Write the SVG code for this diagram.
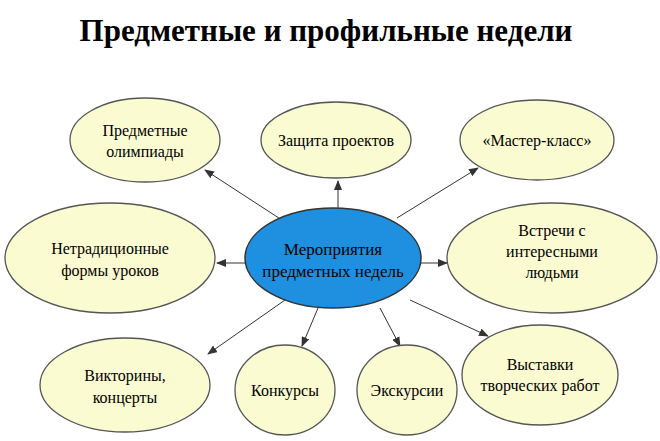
<svg xmlns="http://www.w3.org/2000/svg" width="660" height="441" viewBox="0 0 660 441">
<style>
.n{fill:#fbfbd2;stroke:#555;stroke-width:1.3}
text{font-family:"Liberation Serif",serif;font-size:16px;fill:#000;text-anchor:middle}
.c line{stroke:#333;stroke-width:1;marker-end:url(#a)}
</style>
<defs><marker id="a" markerWidth="10" markerHeight="8" refX="9" refY="4" orient="auto" markerUnits="userSpaceOnUse"><path d="M0,0L10,4L0,8z" fill="#333"/></marker></defs>
<rect width="660" height="441" fill="#fff"/>
<text x="326" y="41" style="font-size:31px;font-weight:bold">Предметные и профильные недели</text>
<g class="c">
<line x1="285" y1="222" x2="205" y2="170"/>
<line x1="338" y1="208" x2="338" y2="181"/>
<line x1="397" y1="218" x2="478" y2="168"/>
<line x1="246" y1="263" x2="217" y2="263"/>
<line x1="420" y1="263" x2="447" y2="263"/>
<line x1="285" y1="300" x2="208" y2="354"/>
<line x1="318" y1="308" x2="302" y2="346"/>
<line x1="380" y1="308" x2="400" y2="346"/>
<line x1="410" y1="300" x2="488" y2="336"/>
</g>
<g id="center"><ellipse cx="333" cy="258" rx="88" ry="50" fill="#1f8fe0" stroke="#333" stroke-width="1.5"/><text x="333" y="255" style="font-size:17px">Мероприятия</text><text x="333" y="277" style="font-size:17px">предметных недель</text></g>
<g id="n1"><ellipse class="n" cx="145" cy="140" rx="75" ry="42"/><text x="145" y="136">Предметные</text><text x="145" y="157">олимпиады</text></g>
<g id="n2"><ellipse class="n" cx="336" cy="140" rx="75" ry="38"/><text x="336" y="146">Защита проектов</text></g>
<g id="n3"><ellipse class="n" cx="537" cy="140" rx="77" ry="40"/><text x="537" y="146">«Мастер-класс»</text></g>
<g id="n4"><ellipse class="n" cx="110" cy="258" rx="105" ry="55"/><text x="110" y="254">Нетрадиционные</text><text x="110" y="276">формы уроков</text></g>
<g id="n5"><ellipse class="n" cx="552" cy="258" rx="105" ry="55"/><text x="552" y="236">Встречи с</text><text x="552" y="257">интересными</text><text x="552" y="278">людьми</text></g>
<g id="n6"><ellipse class="n" cx="125" cy="385" rx="85" ry="47"/><text x="125" y="381">Викторины,</text><text x="125" y="403">концерты</text></g>
<g id="n7"><ellipse class="n" cx="285" cy="390" rx="50" ry="45"/><text x="285" y="396">Конкурсы</text></g>
<g id="n8"><ellipse class="n" cx="407" cy="390" rx="50" ry="45"/><text x="407" y="396">Экскурсии</text></g>
<g id="n9"><ellipse class="n" cx="540" cy="375" rx="78" ry="50"/><text x="540" y="370">Выставки</text><text x="540" y="391">творческих работ</text></g>
</svg>
